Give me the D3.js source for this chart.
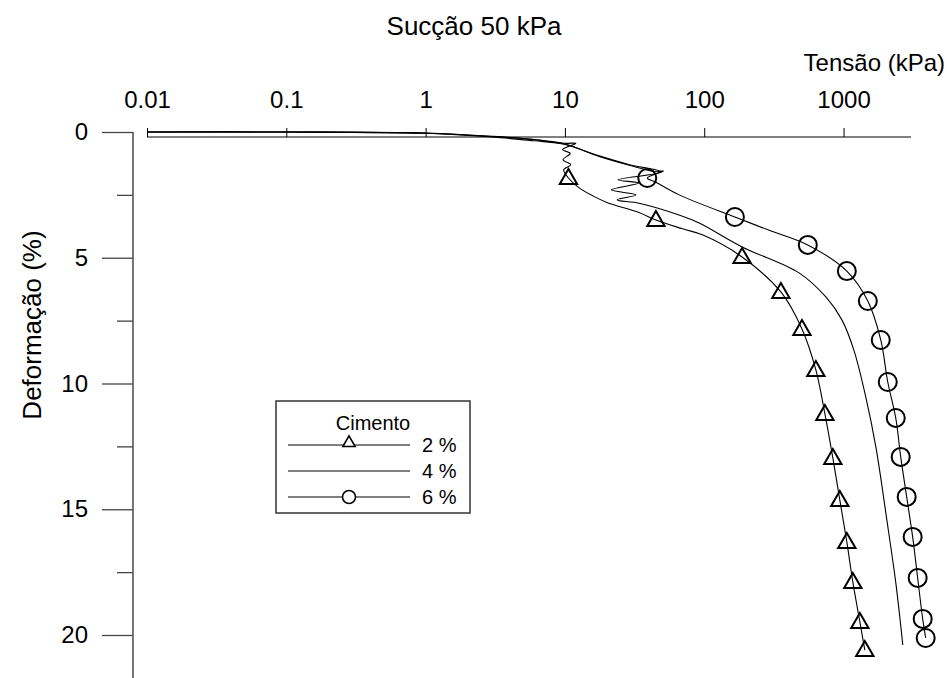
<!DOCTYPE html>
<html>
<head>
<meta charset="utf-8">
<script src="https://cdn.jsdelivr.net/npm/d3@7"></script>
<style>
  body { margin: 0; background: #fff; }
  text { font-family: Arial, "Liberation Sans", sans-serif; }
</style>
</head>
<body>
<div id="chart"></div>
<script>
// tension (kPa), deformation (%)
var curve2 = [[0.01,0],[0.1,0],[1,0.05],[3,0.2],[6,0.35],[10,0.45],[12,0.45],[9.6,0.7],[10.9,0.85],
  [9.7,1.1],[11,1.3],[9.8,1.5],[10.6,1.83],[12.5,2.2],[16,2.55],[20,2.8],[34,3.2],[45,3.5],[70,3.85],
  [98,4.1],[187,4.97],[355,6.36],[503,7.83],[633,9.46],[735,11.21],[838,12.96],[940,14.63],
  [1056,16.3],[1166,17.89],[1310,19.48],[1422,20.6]];
var curve4 = [[0.01,0],[0.1,0],[1,0.05],[3,0.18],[6,0.3],[10,0.5],[17.6,0.95],[29,1.3],[49,1.59],
  [24,1.9],[34,2.03],[21.5,2.3],[32.4,2.5],[23.7,2.7],[34,2.83],[66,3.3],[92,3.62],[187,4.57],
  [479,5.6],[747,6.56],[973,7.47],[1186,8.67],[1445,10.54],[1706,12.52],[2047,15.43],[2373,17.93],
  [2663,20.4]];
var curve6 = [[0.01,0],[0.1,0],[1,0.04],[3,0.17],[6,0.3],[10,0.48],[17.6,0.97],[29,1.32],[45,1.58],
  [51,1.55],[39,1.83],[45,2.0],[66,2.5],[166,3.38],[290,3.9],[554,4.49],[1056,5.53],[1494,6.72],
  [1850,8.27],[2077,9.94],[2370,11.37],[2573,12.92],[2840,14.51],[3135,16.1],[3405,17.73],
  [3700,19.36],[3888,20.12]];
var marks2 = [[10.6,1.83],[45,3.5],[187,4.97],[355,6.36],[503,7.83],[633,9.46],[735,11.21],[838,12.96],
  [940,14.63],[1056,16.3],[1166,17.89],[1310,19.48],[1422,20.6]];
var marks6 = [[39,1.83],[166,3.38],[554,4.49],[1056,5.53],[1494,6.72],[1850,8.27],[2077,9.94],
  [2370,11.37],[2573,12.92],[2840,14.51],[3135,16.1],[3405,17.73],[3700,19.36],[3888,20.12]];

var xTicks = [0.01, 0.1, 1, 10, 100, 1000];
var xTickLabels = ["0.01", "0.1", "1", "10", "100", "1000"];
var yMajor = [0, 5, 10, 15, 20];
var yMinor = [2.5, 7.5, 12.5, 17.5];
var legendLabels = ["2 %", "4 %", "6 %"];

var width = 947, height = 678;
var svg = d3.select("#chart").append("svg")
  .attr("width", width).attr("height", height);

var x = d3.scaleLog().domain([0.01, 3000]).range([147, 910]);
var y = d3.scaleLinear().domain([0, 20]).range([132, 635]);
var axisX = 133;
var axisY = 137;

// top axis
var xAxis = d3.axisTop(x).tickValues(xTicks).tickSize(9).tickPadding(20)
  .tickFormat(function(d, i){ return xTickLabels[i]; });
var gx = svg.append("g").attr("transform", "translate(0," + axisY + ")").call(xAxis);
gx.select(".domain").remove();
gx.append("line").attr("x1", x(0.01)).attr("x2", 911).attr("stroke", "#000").attr("stroke-width", 1);
gx.selectAll("text").attr("font-size", 24).attr("fill", "#000");

// left axis
var yAxis = d3.axisLeft(y).tickValues(yMajor).tickSize(31).tickPadding(14);
var gy = svg.append("g").attr("transform", "translate(" + axisX + ",0)").call(yAxis);
gy.select(".domain").remove();
gy.selectAll("text").attr("font-size", 24).attr("fill", "#000");
var yMinorAxis = d3.axisLeft(y).tickValues(yMinor).tickSize(16).tickFormat("");
var gym = svg.append("g").attr("transform", "translate(" + axisX + ",0)").call(yMinorAxis);
gym.select(".domain").remove();
svg.selectAll(".tick line").attr("stroke", "#444").attr("stroke-width", 1.3);
gx.selectAll(".tick line").attr("stroke", "#000").attr("stroke-width", 1);
svg.append("line").attr("x1", axisX).attr("x2", axisX)
  .attr("y1", y(0)).attr("y2", height).attr("stroke", "#555").attr("stroke-width", 1.6);

// titles
svg.append("text").attr("x", 474).attr("y", 35).attr("text-anchor", "middle")
  .attr("font-size", 26).text("Sucção 50 kPa");
svg.append("text").attr("x", 945).attr("y", 71).attr("text-anchor", "end")
  .attr("font-size", 24).text("Tensão (kPa)");
svg.append("text").attr("transform", "translate(41,325) rotate(-90)").attr("text-anchor", "middle")
  .attr("font-size", 26).text("Deformação (%)");

// curves
var line = d3.line().curve(d3.curveCatmullRom.alpha(0.5))
  .x(function(d){ return x(d[0]); }).y(function(d){ return y(d[1]); });
[curve2, curve4, curve6].forEach(function(c){
  svg.append("path").datum(c).attr("d", line)
    .attr("fill", "none").attr("stroke", "#000").attr("stroke-width", 1.1);
});

var tri = d3.symbol().type(d3.symbolTriangle).size(130);
svg.selectAll(".m2").data(marks2).enter().append("path")
  .attr("d", tri)
  .attr("transform", function(d){ return "translate(" + x(d[0]) + "," + (y(d[1]) + 1) + ")"; })
  .attr("fill", "none").attr("stroke", "#000").attr("stroke-width", 2);
svg.selectAll(".m6").data(marks6).enter().append("circle")
  .attr("cx", function(d){ return x(d[0]); }).attr("cy", function(d){ return y(d[1]); })
  .attr("r", 9).attr("fill", "none").attr("stroke", "#000").attr("stroke-width", 2);

// legend
var lg = svg.append("g").attr("transform", "translate(276,401)");
lg.append("rect").attr("width", 194).attr("height", 112)
  .attr("fill", "#fff").attr("stroke", "#333").attr("stroke-width", 1.5);
lg.append("text").attr("x", 97).attr("y", 29).attr("text-anchor", "middle")
  .attr("font-size", 20).text("Cimento");
var rowY = d3.scalePoint().domain(legendLabels).range([44, 96]);
legendLabels.forEach(function(lab, i){
  var yy = rowY(lab);
  lg.append("line").attr("x1", 12).attr("x2", 134).attr("y1", yy).attr("y2", yy)
    .attr("stroke", "#000").attr("stroke-width", 1);
  lg.append("text").attr("x", 146).attr("y", yy + 7).attr("font-size", 20).text(lab);
  if (i === 0) {
    lg.append("path").attr("d", d3.symbol().type(d3.symbolTriangle).size(65))
      .attr("transform", "translate(73," + (yy - 2) + ")")
      .attr("fill", "#fff").attr("stroke", "#000").attr("stroke-width", 1.6);
  } else if (i === 2) {
    lg.append("circle").attr("cx", 73).attr("cy", yy).attr("r", 6.5)
      .attr("fill", "#fff").attr("stroke", "#000").attr("stroke-width", 1.6);
  }
});
</script>
</body>
</html>
